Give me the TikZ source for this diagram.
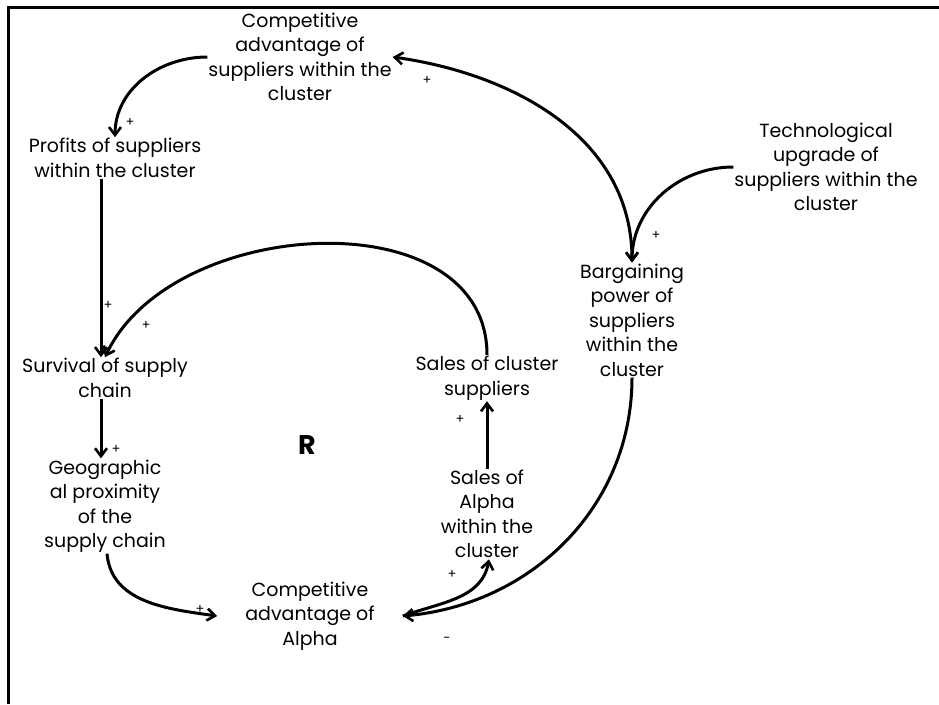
\documentclass[tikz,border=0pt]{standalone}
\usepackage{fontspec}
\setmainfont{Poppins}
\usetikzlibrary{arrows.meta}
\tikzset{
  factor/.style={align=center, inner sep=1pt, font=\fontsize{19}{24.5}\selectfont},
  link/.style={line width=3pt, -{Straight Barb[length=8pt,width=12pt,line width=2.6pt]}},
  sign/.style={inner sep=0pt, font=\fontsize{13}{13}\selectfont}
}
\begin{document}
\begin{tikzpicture}[x=1pt, y=-1pt]
\useasboundingbox (0,0) rectangle (939,704);
% cadre
\draw [line width=3pt] (8,704) -- (8,7) -- (939,7);
% variables
\node [factor] (compS) at (300,57) {Competitive\\advantage of\\suppliers within the\\cluster};
\node [factor] (profits) at (115,158) {Profits of suppliers\\within the cluster};
\node [factor] (tech) at (826,167) {Technological\\upgrade of\\suppliers within the\\cluster};
\node [factor] (bargain) at (632,320) {Bargaining\\power of\\suppliers\\within the\\cluster};
\node [factor] (survival) at (105,378) {Survival of supply\\chain};
\node [factor] (salesC) at (487,378) {Sales of cluster\\suppliers};
\node [factor] (geo) at (105,506) {Geographic\\al proximity\\of the\\supply chain};
\node [factor] (salesA) at (487,514) {Sales of\\Alpha\\within the\\cluster};
\node [factor, inner xsep=28pt] (compA) at (310,616) {Competitive\\advantage of\\Alpha};
\node [font=\fontsize{27}{27}\selectfont\bfseries] (loop) at (307,445) {R};
% liens
\draw [link] (compS.west) to [out=180, in=90] (profits.north);
\draw [link, {Straight Barb[length=8pt,width=12pt,line width=2.6pt]}-{Straight Barb[length=8pt,width=12pt,line width=2.6pt]}]
  (compS.east) to [out=-8, in=90] (bargain.north);
\draw [link] (tech.west) to [out=180, in=90] (bargain.north);
\draw [link] ([xshift=-14pt]profits.south) -- ([xshift=-4pt]survival.north);
\draw [link] (salesC.north) to [out=90, in=65, looseness=1.05] (survival.north);
\draw [link] ([xshift=-4pt]survival.south) -- ([xshift=-4pt]geo.north);
\draw [link] ([xshift=2pt]geo.south) to [out=-85, in=172] (compA.west);
\draw [link] (salesA.north) -- (salesC.south);
\draw [link] (compA.east) to [out=20, in=-100] ([xshift=2pt]salesA.south);
\draw [link] (bargain.south) to [out=-90, in=5] (compA.east);
% polarites
\node [sign] (s1) at (130,122) {+};
\node [sign] (s2) at (427,80) {+};
\node [sign] (s3) at (656,235) {+};
\node [sign] (s4) at (108,305) {+};
\node [sign] (s5) at (146,325) {+};
\node [sign] (s6) at (116,449) {+};
\node [sign] (s7) at (200,609) {+};
\node [sign] (s8) at (460,419) {+};
\node [sign] (s9) at (452,574) {+};
\node [sign] (s10) at (447,640) {-};
\end{tikzpicture}
\end{document}
